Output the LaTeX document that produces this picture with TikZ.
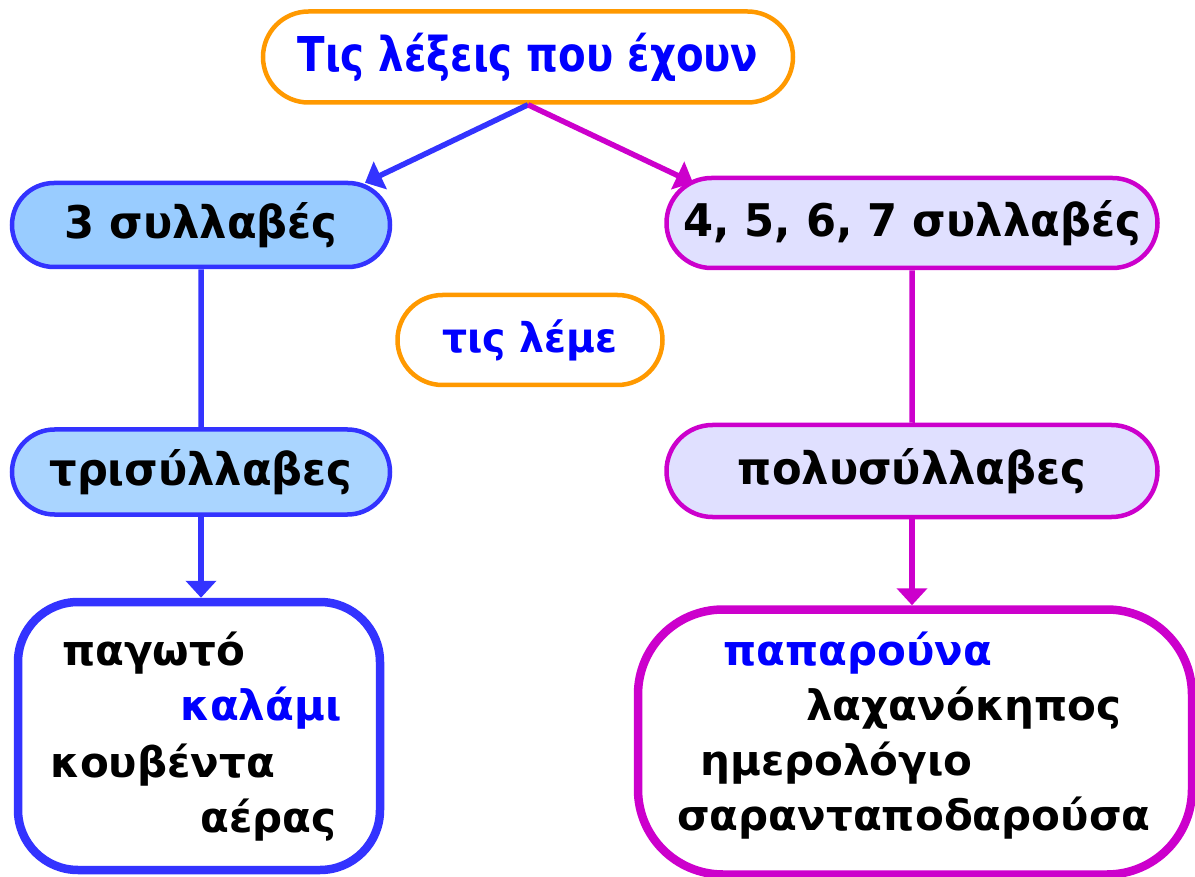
\documentclass[tikz,border=0pt]{standalone}
\usepackage{fontspec}
\setmainfont{DejaVu Sans}
\newfontfamily\stretta{DejaVu Sans}[FakeStretch=0.84]
\newfontfamily\etichetta{DejaVu Sans}[FakeStretch=0.96]
\usetikzlibrary{shapes.misc,arrows.meta}

\definecolor{blu}{HTML}{3333FF}
\definecolor{testoblu}{HTML}{0000FF}
\definecolor{viola}{HTML}{CC00CC}
\definecolor{arancio}{HTML}{FF9900}
\definecolor{celeste}{HTML}{99CCFF}
\definecolor{celestino}{HTML}{AAD5FF}
\definecolor{lilla}{HTML}{E0E0FF}

\tikzset{
  pill/.style={rounded rectangle,draw,line width=4.5pt,inner sep=0pt},
  lista/.style={draw,rectangle,line width=8.5pt},
  parola/.style={anchor=base west,inner sep=0pt,font=\bfseries\fontsize{42}{50}\selectfont},
  freccia/.style={line width=5.5pt,-{Triangle[width=30pt,length=17pt]}}
}

\begin{document}
\begin{tikzpicture}[x=1pt,y=-1pt,font=\etichetta\bfseries\fontsize{45}{54}\selectfont]
\useasboundingbox (0,0) rectangle (1195,877);

% righe in alto
\node[pill,arancio,fill=white,minimum width=530pt,minimum height=91pt,text=testoblu,font=\stretta\bfseries\fontsize{48}{56}\selectfont] (titolo) at (528,57) {Τις λέξεις που έχουν};
\node[pill,blu,fill=celeste,minimum width=378pt,minimum height=84pt,text=black] (tre) at (201,225) {3 συλλαβές};
\node[pill,viola,fill=lilla,minimum width=491pt,minimum height=90pt,text=black] (poli) at (912,223) {4, 5, 6, 7 συλλαβές};
\node[pill,arancio,fill=white,minimum width=265pt,minimum height=90pt,text=testoblu,font=\etichetta\bfseries\fontsize{41}{50}\selectfont] (leme) at (530,340) {τις λέμε};
\node[pill,blu,fill=celestino,minimum width=378pt,minimum height=85pt,text=black] (trisil) at (201,472) {τρισύλλαβες};
\node[pill,viola,fill=lilla,minimum width=491pt,minimum height=92pt,text=black] (polisil) at (912,471) {πολυσύλλαβες};

% riquadri con le parole
\node[lista,blu,rounded corners=60pt,minimum width=362pt,minimum height=268pt] (esempi3) at (199,736) {};
\node[lista,viola,rounded corners=85pt,minimum width=554pt,minimum height=265pt] (esempipoli) at (915,742) {};

\node[parola] (p1) at (62,665) {παγωτό};
\node[parola,testoblu] (p2) at (180,720) {καλάμι};
\node[parola] (p3) at (50,777) {κουβέντα};
\node[parola] (p4) at (200,832) {αέρας};

\node[parola,testoblu] (q1) at (723,665) {παπαρούνα};
\node[parola] (q2) at (806,720) {λαχανόκηπος};
\node[parola] (q3) at (700,775) {ημερολόγιο};
\node[parola] (q4) at (677,830) {σαρανταποδαρούσα};

% collegamenti
\draw[freccia,blu] (titolo.south) -- ([xshift=164pt,yshift=-2pt]tre.north);
\draw[freccia,viola] (titolo.south) -- ([xshift=-219pt,yshift=-7pt]poli.north);
\draw[blu,line width=5.5pt] (tre) -- (trisil);
\draw[viola,line width=5.5pt] (poli) -- (polisil);
\draw[freccia,blu] (trisil.south) -- (trisil.south |- esempi3.north);
\draw[freccia,viola] (polisil.south) -- (polisil.south |- esempipoli.north);

\end{tikzpicture}
\end{document}
